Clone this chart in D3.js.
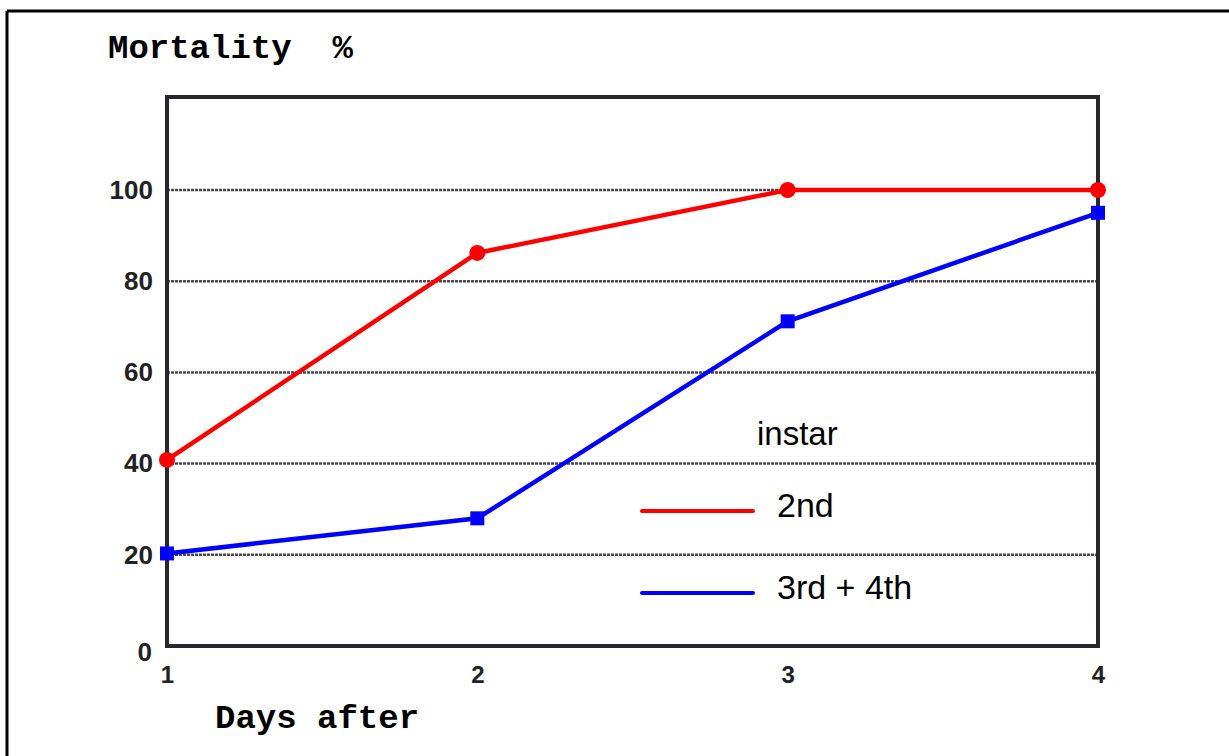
<!DOCTYPE html>
<html><head><meta charset="utf-8">
<script src="https://cdn.jsdelivr.net/npm/d3@7"></script>
<style>body{margin:0;background:#fff}</style>
</head><body>
<svg id="c" width="1229" height="756"></svg>
<script>
const days = [1, 2, 3, 4];
const yTicks = [0, 20, 40, 60, 80, 100];
const instar2 = [40.8, 86.2, 100, 100];
const instar34 = [20.3, 28, 71.2, 95];
const seriesNames = ["2nd", "3rd + 4th"];
const seriesColors = ["#ff0000", "#0000ff"];

const svg = d3.select("#c");
const L = 167, R = 1098, T = 97, B = 646;
const x = d3.scaleLinear().domain([1, 4]).range([L, R]);
const y = d3.scaleLinear().domain([0, 100]).range([B, 190]);

// outer border (top and left edges)
svg.append("line").attr("x1", 7).attr("x2", 1229).attr("y1", 11).attr("y2", 11)
  .attr("stroke", "#000").attr("stroke-width", 3);
svg.append("line").attr("x1", 7).attr("x2", 7).attr("y1", 11).attr("y2", 756)
  .attr("stroke", "#000").attr("stroke-width", 3);

// gridlines
svg.append("g").selectAll("line").data(yTicks.filter(d => d > 0)).join("line")
  .attr("x1", L).attr("x2", R).attr("y1", d => y(d)).attr("y2", d => y(d))
  .attr("stroke", "#4a4550").attr("stroke-width", 2.5).attr("stroke-dasharray", "3,1");

// frame
svg.append("rect").attr("x", L).attr("y", T).attr("width", R - L).attr("height", B - T)
  .attr("fill", "none").attr("stroke", "#2a2630").attr("stroke-width", 4);

// y axis labels
const yAxis = d3.axisLeft(y).tickValues(yTicks).tickSize(0).tickPadding(14).tickFormat(d3.format("d"));
const gy = svg.append("g").attr("transform", `translate(${L},0)`).call(yAxis);
gy.select(".domain").remove();
gy.selectAll("text").attr("font-family", "Liberation Sans, Arial, sans-serif")
  .attr("font-weight", "bold").attr("font-size", 26).attr("fill", "#222");
gy.selectAll(".tick").filter(d => d === 0).select("text").attr("dy", "0.55em").attr("x", -15);

// x axis labels
const xAxis = d3.axisBottom(x).tickValues(days).tickSize(0).tickPadding(20).tickFormat(d3.format("d"));
const gx = svg.append("g").attr("transform", `translate(0,${B})`).call(xAxis);
gx.select(".domain").remove();
gx.selectAll("text").attr("font-family", "Liberation Sans, Arial, sans-serif")
  .attr("font-weight", "bold").attr("font-size", 24).attr("fill", "#222");

// titles
svg.append("text").attr("x", 108).attr("y", 58).text("Mortality  %")
  .attr("font-family", "Liberation Mono, Courier New, monospace").attr("font-weight", "bold")
  .attr("font-size", 34).attr("fill", "#000").style("white-space", "pre");
svg.append("text").attr("x", 215).attr("y", 728).text("Days after")
  .attr("font-family", "Liberation Mono, Courier New, monospace").attr("font-weight", "bold")
  .attr("font-size", 34).attr("fill", "#000");

// lines
const line = d3.line().x((d, i) => x(days[i])).y(d => y(d));
[instar2, instar34].forEach((s, k) => {
  svg.append("path").datum(s).attr("d", line).attr("fill", "none")
    .attr("stroke", seriesColors[k]).attr("stroke-width", 4.5);
});
svg.append("g").selectAll("circle").data(instar2).join("circle")
  .attr("cx", (d, i) => x(days[i])).attr("cy", d => y(d)).attr("r", 8).attr("fill", seriesColors[0]);
svg.append("g").selectAll("rect").data(instar34).join("rect")
  .attr("x", (d, i) => x(days[i]) - 7).attr("y", d => y(d) - 7).attr("width", 14).attr("height", 14)
  .attr("fill", seriesColors[1]);

// legend
svg.append("text").attr("x", 757).attr("y", 445).text("instar")
  .attr("font-family", "Liberation Sans, Arial, sans-serif").attr("font-size", 33).attr("fill", "#000");
const legY = [511, 593];
seriesNames.forEach((n, k) => {
  svg.append("line").attr("x1", 642).attr("x2", 753).attr("y1", legY[k]).attr("y2", legY[k])
    .attr("stroke", seriesColors[k]).attr("stroke-width", 4).attr("stroke-linecap", "round");
  svg.append("text").attr("x", 777).attr("y", legY[k] + 6).text(n)
    .attr("font-family", "Liberation Sans, Arial, sans-serif").attr("font-size", 34).attr("fill", "#000");
});
</script>
</body></html>
